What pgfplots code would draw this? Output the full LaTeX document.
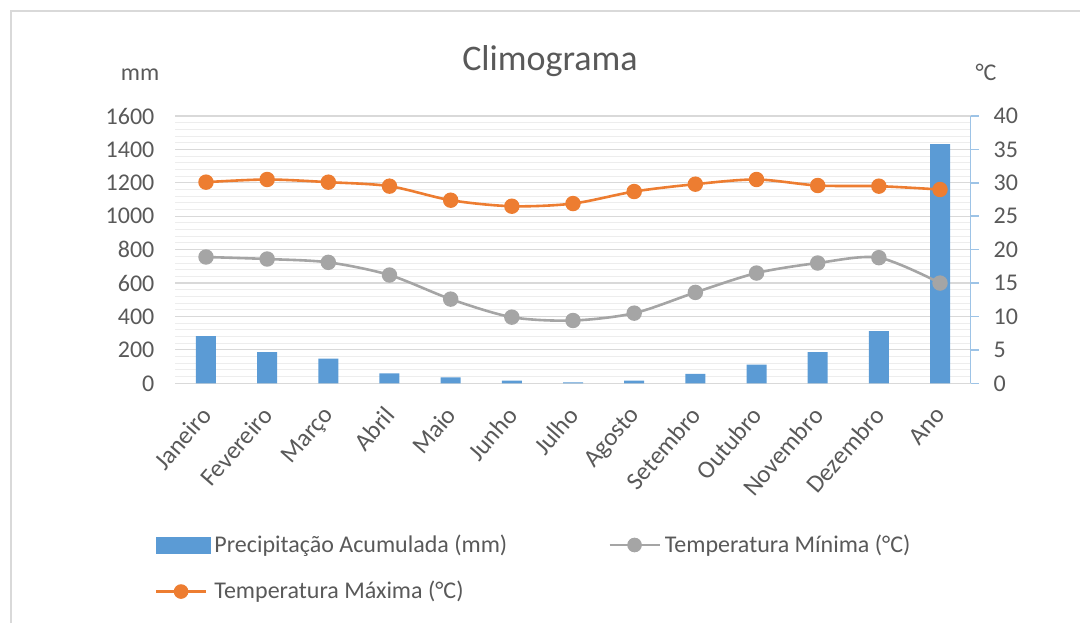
\documentclass[border=0pt]{standalone}
\usepackage{pgfplots}
\pgfplotsset{compat=1.18}
\usepackage{fontspec}
\setmainfont{Carlito}
\definecolor{cbar}{HTML}{5B9BD5}
\definecolor{cmax}{HTML}{ED7D31}
\definecolor{cmin}{HTML}{A5A5A5}
\definecolor{ctxt}{HTML}{595959}
\definecolor{cgrid}{HTML}{D9D9D9}
\definecolor{cminor}{HTML}{EDEDED}
\definecolor{caxis}{HTML}{9DC3E6}

\begin{document}
\begin{tikzpicture}[font=\fontsize{12}{14}\selectfont, text=ctxt]
\useasboundingbox (0,0) rectangle (540pt,311.5pt);
\draw[cgrid, line width=0.6pt] (5.5pt,0) -- (5.5pt,306pt) -- (540pt,306pt);

\pgfplotsset{
  base/.style={
    at={(87.7pt,119.85pt)}, anchor=south west,
    scale only axis, width=397.6pt, height=133.65pt,
    xmin=-0.5, xmax=12.5,
    xtick={0,...,12},
    /pgf/number format/assume math mode=true,
    /pgf/number format/1000 sep={},
    tick label style={font=\fontsize{12}{14}\selectfont, text=ctxt},
  }
}

% precipitation (left axis)
\begin{axis}[base,
  axis y line*=left, axis x line*=bottom,
  y axis line style={draw=none},
  x axis line style={cgrid, line width=0.6pt},
  ymin=0, ymax=1600, ytick={0,200,...,1600},
  minor y tick num=4,
  ymajorgrids, yminorgrids,
  major grid style={cgrid, line width=0.6pt},
  minor grid style={cminor, line width=0.5pt},
  major tick length=0pt, minor tick length=0pt,
  yticklabel style={xshift=-7pt},
  xticklabels={Janeiro,Fevereiro,Março,Abril,Maio,Junho,Julho,Agosto,Setembro,Outubro,Novembro,Dezembro,Ano},
  xticklabel style={rotate=49, anchor=north east, inner sep=1pt, yshift=-3.6pt, xshift=-9pt,
    font=\fontsize{12.5}{14}\selectfont},
  ybar, bar width=10pt,
]
\addplot[fill=cbar, draw=none] coordinates {
  (0,283) (1,186) (2,147) (3,60) (4,36) (5,16) (6,5) (7,16)
  (8,56) (9,112) (10,186) (11,313) (12,1432)
};
\end{axis}

% temperatures (right axis)
\begin{axis}[base,
  axis y line*=right, axis x line=none,
  y axis line style={caxis, line width=0.8pt},
  ytick style={caxis, line width=0.8pt},
  major tick length=4pt, tick align=outside,
  ymin=0, ymax=40, ytick={0,5,...,40},
  yticklabel style={xshift=4pt},
  xticklabels={},
  legend columns=2,
  legend style={at={(-0.034,-0.535)}, anchor=north west, draw=none, fill=none,
    font=\fontsize{12}{14}\selectfont, text=ctxt,
    /tikz/every even column/.append style={column sep=48.5pt},
    row sep=9pt},
  legend cell align=left,
]
\addlegendimage{legend image code/.code={\fill[cbar] (0pt,-4pt) rectangle (27pt,4pt);}}
\addlegendentry{Precipitação Acumulada (mm)}
\addplot[cmin, line width=1.3pt, smooth, tension=0.5, mark=*, mark size=3.2pt,
  mark options={fill=cmin, draw=cmin},
  legend image code/.code={\draw[cmin, line width=1.3pt] (0pt,0pt) -- (25pt,0pt);
    \fill[cmin] (12.5pt,0pt) circle (3pt);}] coordinates {
  (0,18.9) (1,18.6) (2,18.1) (3,16.2) (4,12.6) (5,9.9) (6,9.4) (7,10.5)
  (8,13.6) (9,16.5) (10,18.0) (11,18.8) (12,15.0)
};
\addlegendentry{Temperatura Mínima (°C)}
\addplot[cmax, line width=1.3pt, smooth, tension=0.5, mark=*, mark size=3.2pt,
  mark options={fill=cmax, draw=cmax},
  legend image code/.code={\draw[cmax, line width=1.3pt] (0pt,0pt) -- (25pt,0pt);
    \fill[cmax] (12.5pt,0pt) circle (3pt);}] coordinates {
  (0,30.1) (1,30.5) (2,30.1) (3,29.5) (4,27.4) (5,26.5) (6,26.9) (7,28.7)
  (8,29.8) (9,30.5) (10,29.6) (11,29.5) (12,29.0)
};
\addlegendentry{Temperatura Máxima (°C)}
\end{axis}

\node[font=\fontsize{18}{21}\selectfont] at (275pt,281pt) {Climograma};
\node at (70pt,274pt) {mm};
\node at (493pt,275.5pt) {°C};
\end{tikzpicture}
\end{document}
